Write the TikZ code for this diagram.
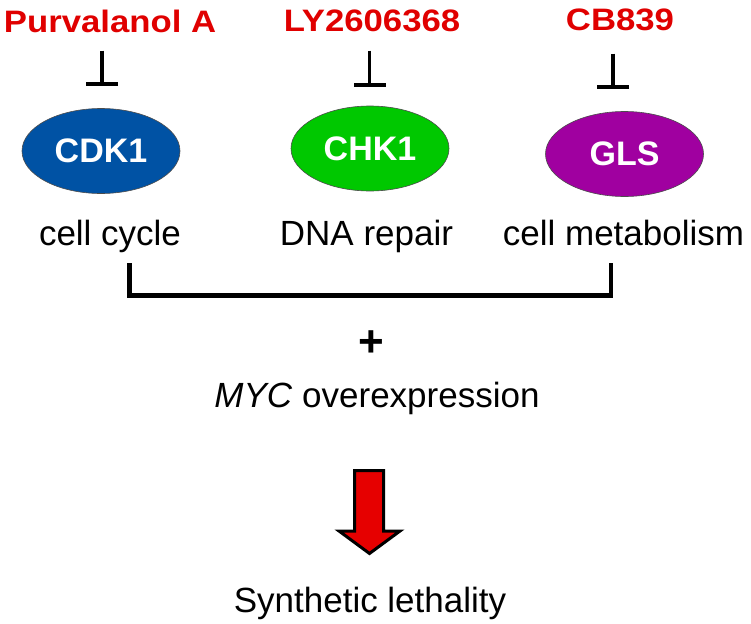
\documentclass[tikz,border=0pt]{standalone}
\usepackage{fontspec}
\setmainfont{Liberation Sans}
\usetikzlibrary{shapes.geometric,arrows.meta}
\definecolor{drugred}{RGB}{224,0,0}
\definecolor{arrowred}{RGB}{230,0,0}
\definecolor{cdkblue}{RGB}{0,82,164}
\definecolor{chkgreen}{RGB}{0,200,0}
\definecolor{glspurple}{RGB}{160,0,160}
\tikzset{
  drug/.style={text=drugred, font=\fontsize{31}{36}\selectfont\bfseries, inner sep=0pt, anchor=base},
  enz/.style={ellipse, draw=black!70, line width=0.6pt, text=white, font=\fontsize{34}{38}\selectfont\bfseries, inner sep=0pt, minimum width=158pt, minimum height=85pt},
  lbl/.style={text=black, font=\fontsize{35}{40}\selectfont, inner sep=0pt, anchor=base},
  inhib/.style={line width=3.5pt, -{Bar[width=32pt, line width=4pt]}},
  bracketline/.style={line width=4.5pt, line join=miter, line cap=butt},
  blockarrow/.style={draw=black, line width=3pt, fill=arrowred, line join=miter}
}
\begin{document}
\begin{tikzpicture}[x=1pt,y=-1pt]
\useasboundingbox (0,0) rectangle (751,623);
\fill[white] (0,0) rectangle (751,623);

% drugs
\node[drug] (pa) at (110,33) {\scalebox{1.12}[1]{Purvalanol A}};
\node[drug] (ly) at (372,32) {\scalebox{1.12}[1]{LY2606368}};
\node[drug] (cb) at (620,31) {\scalebox{1.12}[1]{CB839}};

% enzymes
\node[enz, fill=cdkblue] (cdk) at (101,151) {CDK1};
\node[enz, fill=chkgreen] (chk) at (370,148.5) {CHK1};
\node[enz, fill=glspurple] (gls) at (624.5,154) {GLS};

% inhibition symbols
\coordinate (xa) at (102,0);
\coordinate (xb) at (369.5,0);
\coordinate (xc) at (613,0);
\draw[inhib, shorten <=17pt, shorten >=22pt] (pa.south -| xa) -- (cdk.north -| xa);
\draw[inhib, shorten <=18pt, shorten >=19pt] (ly.south -| xb) -- (chk.north -| xb);
\draw[inhib, shorten <=22pt, shorten >=22pt] (cb.south -| xc) -- (gls.north -| xc);

% process labels
\node[lbl] (cc) at (110,245) {cell cycle};
\node[lbl] (dna) at (366.5,245) {DNA repair};
\node[lbl] (met) at (623.5,245) {cell metabolism};

% bracket
\coordinate (bl) at (129.5,263);
\coordinate (br) at (611,263);
\draw[bracketline] (bl) -- ++(0,32.5) -| (br);

% plus and MYC
\node[inner sep=0pt, font=\fontsize{44}{44}\selectfont\bfseries] (plus) at (371,343.5) {+};
\node[lbl] (myc) at (377,407) {\textit{MYC} overexpression};

% block arrow
\draw[blockarrow] (354.5,470.5) -- (383.5,470.5) -- (383.5,531) -- (400,531)
  -- (369.5,553.5) -- (339,531) -- (354.5,531) -- cycle;
\coordinate (arrowtop) at (369.5,470.5);

% result
\node[lbl] (syn) at (370,612) {Synthetic lethality};
\end{tikzpicture}
\end{document}
